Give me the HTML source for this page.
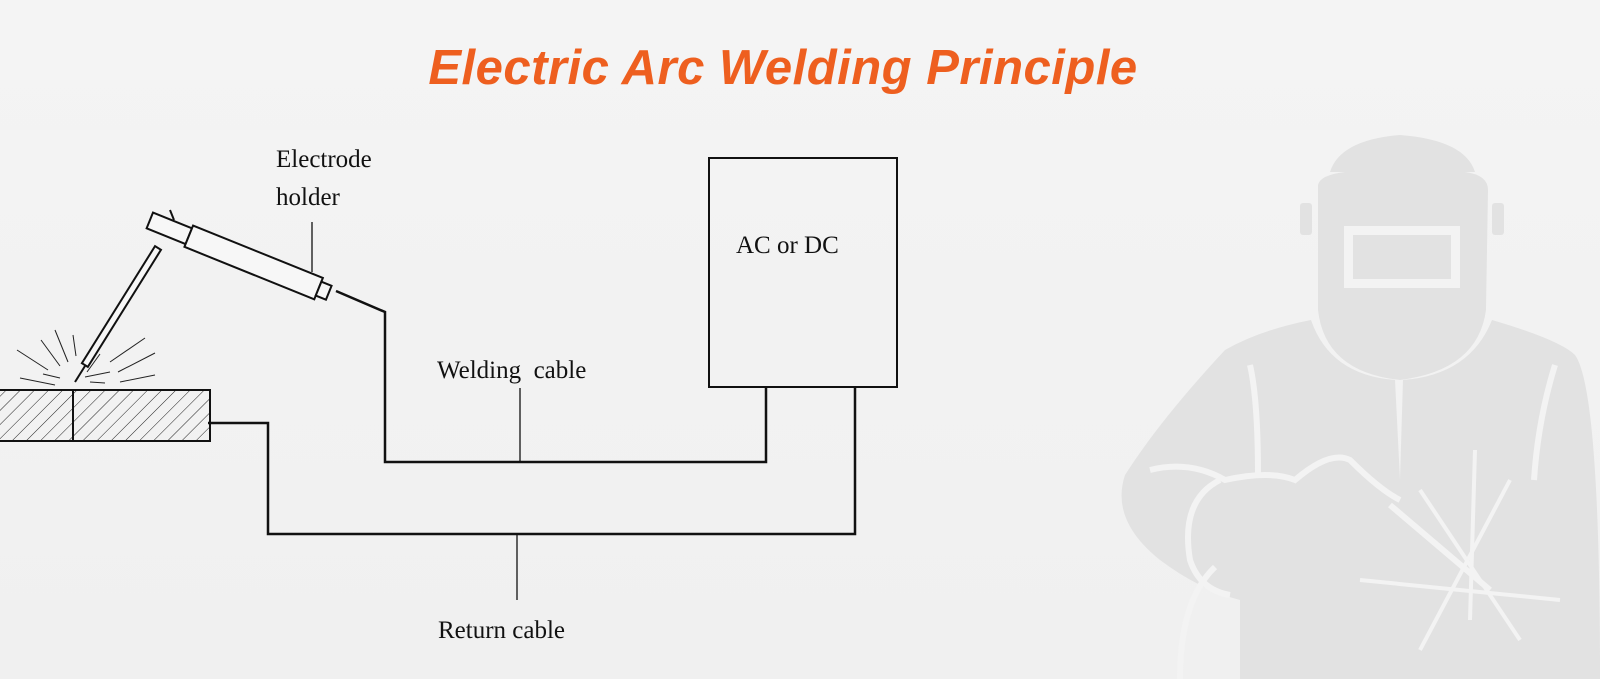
<!DOCTYPE html>
<html><head><style>
body{margin:0;width:1600px;height:679px;overflow:hidden;background:#f3f3f3;}
svg{display:block}
</style></head><body>
<svg width="1600" height="679" viewBox="0 0 1600 679" xmlns="http://www.w3.org/2000/svg">
<defs>
<linearGradient id="bg" x1="0" y1="0" x2="0" y2="1">
<stop offset="0" stop-color="#f4f4f4"/><stop offset="1" stop-color="#f0f0f0"/>
</linearGradient>
<pattern id="hatch" width="10" height="10" patternUnits="userSpaceOnUse" patternTransform="rotate(45)">
<line x1="0" y1="0" x2="0" y2="10" stroke="#222" stroke-width="1"/>
</pattern>
</defs>
<rect width="1600" height="679" fill="url(#bg)"/>
<!-- welder silhouette -->
<g fill="#e2e2e2">
<path d="M1330,172 Q1340,140 1400,135 Q1465,140 1475,172 Z"/>
<path d="M1318,185 Q1320,175 1345,172 L1465,172 Q1488,175 1488,190 L1486,310 Q1478,370 1400,380 Q1325,372 1318,310 Z"/>
<rect x="1300" y="203" width="12" height="32" rx="3"/>
<rect x="1492" y="203" width="12" height="32" rx="3"/>
<path d="M1311,320 Q1330,375 1395,380 L1400,480 L1403,380 Q1470,375 1492,320 Q1560,340 1575,355 Q1600,390 1600,679 L1240,679 L1240,600 Q1200,590 1160,560 Q1110,520 1125,475 Q1160,420 1225,350 Q1260,330 1311,320 Z"/>
</g>
<rect x="1344" y="226" width="116" height="62" fill="#f3f3f3"/>
<rect x="1353" y="235" width="98" height="44" fill="#e2e2e2"/>
<g fill="none" stroke="#f3f3f3" stroke-width="6">
<path d="M1250,365 Q1258,400 1258,475"/>
<path d="M1555,365 Q1538,420 1534,480"/>
<path d="M1150,470 Q1190,460 1225,480 Q1270,470 1295,480 Q1330,450 1350,460 Q1380,490 1400,500"/>
<path d="M1220,480 Q1180,500 1190,560 Q1200,590 1230,595"/>
<path d="M1215,567 Q1180,600 1180,679"/>
<path d="M1390,505 L1490,590"/>
</g>
<g stroke="#f3f3f3" stroke-width="4">
<line x1="1475" y1="450" x2="1470" y2="620"/>
<line x1="1420" y1="490" x2="1520" y2="640"/>
<line x1="1510" y1="480" x2="1420" y2="650"/>
<line x1="1360" y1="580" x2="1560" y2="600"/>
</g>
<!-- title -->
<text x="783" y="84" text-anchor="middle" font-family="Liberation Sans, sans-serif" font-size="49" font-weight="bold" font-style="italic" letter-spacing="0.5" fill="#ee5f1f">Electric Arc Welding Principle</text>
<!-- workpiece -->
<rect x="-2" y="390" width="212" height="51" fill="url(#hatch)" stroke="#111" stroke-width="2"/>
<line x1="73" y1="390" x2="73" y2="441" stroke="#111" stroke-width="2"/>
<!-- cables -->
<g fill="none" stroke="#111" stroke-width="2.5">
<polyline points="336,291 385,312 385,462 766,462 766,388"/>
<polyline points="208,423 268,423 268,534 855,534 855,388"/>
</g>
<rect x="709" y="158" width="188" height="229" fill="none" stroke="#111" stroke-width="2"/>
<g stroke="#111" stroke-width="1.3">
<line x1="520" y1="388" x2="520" y2="462"/>
<line x1="517" y1="534" x2="517" y2="600"/>
<line x1="312" y1="222" x2="312" y2="272"/>
</g>
<!-- holder -->
<g stroke="#111" stroke-width="2" fill="#f7f7f7">
<line x1="170" y1="210" x2="174" y2="220"/>
<g transform="translate(158,248) rotate(122)">
<rect x="0" y="-3.5" width="138" height="7"/>
</g>
<line x1="85" y1="366" x2="75" y2="382"/>
<g transform="translate(150,220) rotate(22)">
<rect x="0" y="-8" width="42" height="17"/>
<rect x="42" y="-11" width="140" height="23"/>
<rect x="182" y="-7" width="11" height="15"/>
</g>
</g>
<!-- sparks -->
<g stroke="#222" stroke-width="1">
<line x1="55" y1="330" x2="68" y2="362"/><line x1="41" y1="340" x2="60" y2="366"/>
<line x1="17" y1="350" x2="48" y2="370"/><line x1="20" y1="378" x2="55" y2="385"/>
<line x1="73" y1="335" x2="76" y2="356"/><line x1="100" y1="354" x2="87" y2="372"/>
<line x1="145" y1="338" x2="110" y2="362"/><line x1="155" y1="353" x2="118" y2="372"/>
<line x1="155" y1="375" x2="120" y2="382"/><line x1="90" y1="382" x2="105" y2="383"/>
<line x1="85" y1="377" x2="110" y2="372"/><line x1="43" y1="374" x2="60" y2="378"/>
</g>
<!-- labels -->
<g font-family="Liberation Serif, serif" font-size="25" fill="#111">
<text x="276" y="167">Electrode</text>
<text x="276" y="205">holder</text>
<text x="736" y="253">AC or DC</text>
<text x="437" y="378">Welding&#160; cable</text>
<text x="438" y="638">Return cable</text>
</g>
</svg>
</body></html>
